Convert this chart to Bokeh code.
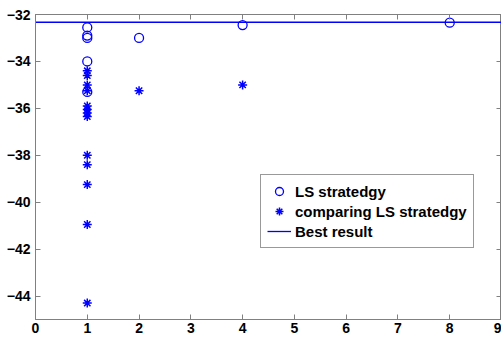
from bokeh.plotting import figure
from bokeh.models import LinearAxis, Range1d, FixedTicker, Legend, LegendItem
from bokeh.embed import file_html
from bokeh.resources import INLINE

# data
ls_x = [1, 1, 1, 1, 1, 2, 4, 8]
ls_y = [-32.55, -32.9, -33.0, -34.0, -35.3, -33.0, -32.45, -32.35]
cmp_x = [1, 1, 1, 1, 1, 1, 1, 1, 1, 1, 1, 1, 1, 2, 4]
cmp_y = [-34.4, -34.6, -35.0, -35.25, -35.9, -36.05, -36.2, -36.35,
         -38.0, -38.4, -39.25, -40.95, -44.3, -35.25, -35.0]
best_x = [0, 9]
best_y = [-32.33, -32.33]
x_ticks = [0, 1, 2, 3, 4, 5, 6, 7, 8, 9]
y_ticks = [-44, -42, -40, -38, -36, -34, -32]
labels = ["LS stratedgy", "comparing LS stratedgy", "Best result"]

BLUE = "#0000FF"
AX = "#808080"
FONT = "Liberation Sans"

p = figure(width=501, height=339, output_backend="svg", toolbar_location=None,
           x_range=Range1d(0, 9), y_range=Range1d(-45, -32),
           min_border_left=35, min_border_top=14, min_border_bottom=20,
           min_border_right=0)
p.xgrid.visible = False
p.ygrid.visible = False
p.outline_line_color = AX
p.background_fill_color = "white"

def style(ax):
    ax.axis_line_color = AX
    ax.major_tick_line_color = AX
    ax.major_tick_in = 5
    ax.major_tick_out = 0
    ax.minor_tick_line_color = None
    ax.major_label_text_font = FONT
    ax.major_label_text_font_style = "bold"
    ax.major_label_text_color = "black"
    ax.major_label_text_font_size = "14px"
    ax.major_label_standoff = 3

for ax in p.xaxis:
    ax.ticker = FixedTicker(ticks=x_ticks)
    style(ax)
for ax in p.yaxis:
    ax.ticker = FixedTicker(ticks=y_ticks)
    style(ax)
    ax.major_label_standoff = 5

def mirror(ticks):
    ax = LinearAxis(ticker=FixedTicker(ticks=[], minor_ticks=ticks))
    ax.axis_line_color = AX
    ax.major_tick_line_color = None
    ax.minor_tick_line_color = AX
    ax.minor_tick_in = 5
    ax.minor_tick_out = 0
    ax.major_label_standoff = 0
    return ax

p.add_layout(mirror(x_ticks), "above")
p.add_layout(mirror(y_ticks), "right")

r_ls = p.scatter(ls_x, ls_y, marker="circle", size=9, fill_color=None,
                 line_color=BLUE, line_width=1.3)
r_cmp = p.scatter(cmp_x, cmp_y, marker="asterisk", size=9,
                  line_color=BLUE, line_width=1.5)
r_best = p.line(best_x, best_y, line_color=BLUE, line_width=1.3)

legend = Legend(items=[LegendItem(label=labels[0], renderers=[r_ls]),
                       LegendItem(label=labels[1], renderers=[r_cmp]),
                       LegendItem(label=labels[2], renderers=[r_best])],
                location=(225, 71))
legend.label_text_font = FONT
legend.label_text_font_style = "bold"
legend.label_text_font_size = "15px"
legend.label_text_color = "black"
legend.label_height = 20
legend.glyph_height = 20
legend.glyph_width = 24
legend.label_standoff = 4
legend.padding = 6
legend.spacing = 0
legend.margin = 0
legend.border_line_color = "#333333"
legend.border_line_width = 1
legend.background_fill_color = "white"
legend.background_fill_alpha = 1
p.add_layout(legend, "center")

open("out.html", "w").write(file_html(p, INLINE))
